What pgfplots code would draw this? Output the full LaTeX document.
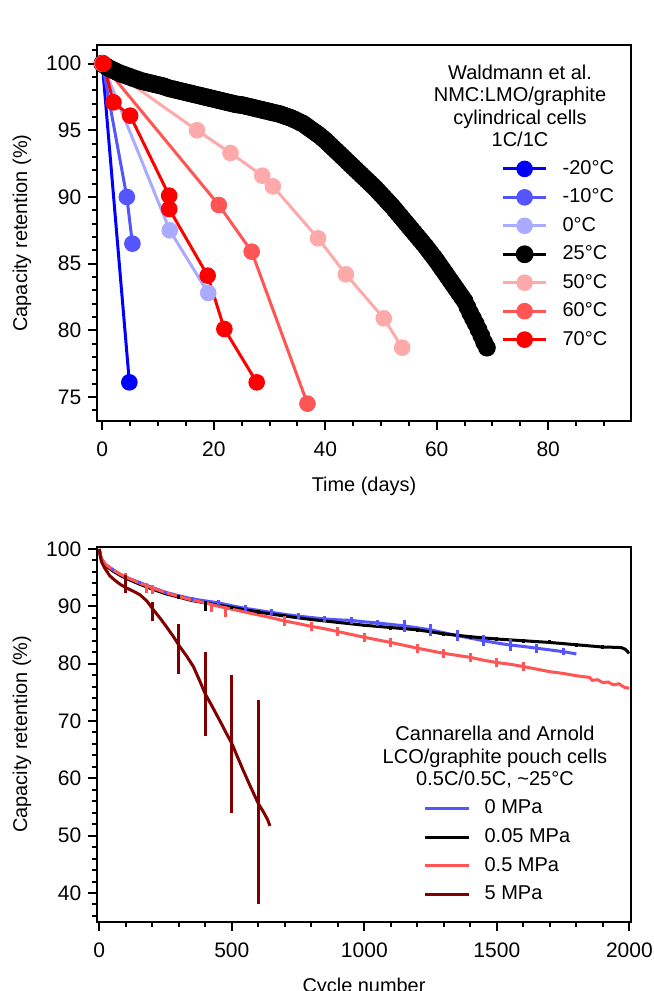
\documentclass[border=0pt]{standalone}
\usepackage{pgfplots}
\pgfplotsset{compat=1.18}
\usepackage{fontspec}
\setmainfont{Liberation Sans}
\definecolor{cm20}{RGB}{0,0,255}
\definecolor{cm10}{RGB}{85,85,255}
\definecolor{cz}{RGB}{170,170,255}
\definecolor{cf}{RGB}{255,170,170}
\definecolor{cs}{RGB}{255,85,85}
\definecolor{cv}{RGB}{255,0,0}
\definecolor{cdark}{RGB}{128,0,0}
\newcommand{\fs}{\fontsize{10bp}{11.2bp}\selectfont}
\newcommand{\ft}{\fontsize{10.5bp}{12bp}\selectfont}
\pgfplotsset{
  myaxis/.style={
    scale only axis, anchor=south west,
    width=266.7bp,
    tick pos=left, tick align=outside,
    major tick length=4.5bp, minor tick length=2.5bp,
    every tick/.append style={black, line width=1bp},
    axis line style={line width=1bp},
    /pgf/number format/assume math mode=true,
    /pgf/number format/1000 sep={},
    scaled ticks=false,
    tick label style={font=\ft},
    xticklabel style={yshift=-2.5bp},
    label style={font=\fs},
    every axis y label/.style={at={(axis description cs:-0.141,0.5)}, rotate=90, anchor=center},
    every axis x label/.style={at={(axis description cs:0.5,-0.174)}, anchor=center},
    legend cell align=left,
  },
  ebar/.style={forget plot, draw=none, mark=none, error bars/.cd, y dir=both, y explicit,
    error mark=none, error bar style={line width=1.5bp, draw=#1}},
}
\begin{document}
\begin{tikzpicture}
\path[use as bounding box] (0,0) rectangle (327bp,495.5bp);
% ---------------- panel a
\begin{axis}[myaxis,
  at={(48.65bp,285bp)}, height=188bp,
  xmin=-0.9, xmax=94.8, ymin=73.2, ymax=101.4,
  xtick={0,20,40,60,80}, minor xtick={0,5,...,90},
  ytick={75,80,85,90,95,100}, minor ytick={74,...,101},
  xlabel={Time (days)}, ylabel={Capacity retention (\%)},
  legend style={draw=none, fill=none, at={(rel axis cs:0.758,0.693)}, anchor=north west,
    inner sep=0pt, outer sep=0pt, row sep=5.75bp, column sep=7.5bp, font=\fs,
    nodes={inner sep=0pt}},
  legend image code/.code={\draw[#1, mark repeat=2, mark phase=2] plot coordinates {(0bp,0bp) (10.75bp,0bp) (21.5bp,0bp)};},
  every axis plot/.append style={line width=1.5bp, mark=*, mark size=3.9bp},
]
\addplot[color=cm20, mark options={fill=cm20, line width=0.5bp}] coordinates {(0,100) (4.85,76.1)};
\addlegendentry{-20°C}
\addplot[color=cm10, mark options={fill=cm10, line width=0.5bp}] coordinates {(0,100) (4.4,90.0) (5.4,86.5)};
\addlegendentry{-10°C}
\addplot[color=cz, mark options={fill=cz, line width=0.5bp}] coordinates {(0,100) (12.1,87.5) (19.0,82.8)};
\addlegendentry{0°C}
\addplot[color=black, mark options={fill=black, line width=0.5bp}, mark size=4.2bp] table {
x y
0 100.0
0.5 99.85
1 99.7
1.5 99.6
2 99.5
2.5 99.4
3 99.3
3.5 99.22
4 99.15
4.5 99.07
5 99.0
5.5 98.92
6 98.85
6.5 98.78
7 98.7
7.5 98.65
8 98.6
8.5 98.55
9 98.5
9.5 98.45
10 98.4
10.5 98.35
11 98.3
11.5 98.22
12 98.15
12.5 98.1
13 98.05
13.5 98.0
14 97.95
14.5 97.9
15 97.85
15.5 97.8
16 97.75
16.5 97.7
17 97.65
17.5 97.6
18 97.55
18.5 97.5
19 97.45
19.5 97.4
20 97.35
20.5 97.3
21 97.25
21.5 97.2
22 97.15
22.5 97.1
23 97.05
23.5 97.0
24 96.95
24.5 96.92
25 96.9
25.5 96.85
26 96.8
26.5 96.75
27 96.7
27.5 96.65
28 96.6
28.5 96.55
29 96.5
29.5 96.45
30 96.4
30.5 96.35
31 96.3
31.5 96.25
32 96.2
32.5 96.12
33 96.05
33.5 95.98
34 95.9
34.5 95.8
35 95.7
35.5 95.6
36 95.5
36.5 95.35
37 95.2
37.5 95.05
38 94.9
38.5 94.75
39 94.6
39.5 94.42
40 94.25
40.5 94.05
41 93.85
41.5 93.65
42 93.45
42.5 93.25
43 93.05
43.5 92.85
44 92.65
44.5 92.45
45 92.25
45.5 92.05
46 91.85
46.5 91.65
47 91.45
47.5 91.25
48 91.05
48.5 90.85
49 90.65
49.5 90.42
50 90.2
50.5 89.98
51 89.75
51.5 89.52
52 89.3
52.5 89.05
53 88.8
53.5 88.55
54 88.3
54.5 88.05
55 87.8
55.5 87.55
56 87.3
56.5 87.05
57 86.8
57.5 86.55
58 86.3
58.5 86.02
59 85.75
59.5 85.48
60 85.2
60.5 84.9
61 84.6
61.5 84.3
62 84.0
62.5 83.7
63 83.4
63.5 83.1
64 82.8
64.5 82.5
65 82.2
65.5 81.75
66 81.3
66.5 80.9
67 80.5
67.5 80.05
68 79.6
68.5 79.1
69 78.7
};
\addlegendentry{25°C}
\addplot[color=cf, mark options={fill=cf, line width=0.5bp}] coordinates {(0,100) (17,95) (23,93.3) (28.7,91.6) (30.6,90.8) (38.7,86.9) (43.7,84.2) (50.5,80.9) (53.8,78.7)};
\addlegendentry{50°C}
\addplot[color=cs, mark options={fill=cs, line width=0.5bp}] coordinates {(0,100) (20.9,89.4) (26.8,85.9) (36.8,74.5)};
\addlegendentry{60°C}
\addplot[color=cv, mark options={fill=cv, line width=0.5bp}] coordinates {(0.2,100) (2,97.1) (5,96.1) (12,90.1) (12,89.1) (18.9,84.1) (21.9,80.1) (27.7,76.1)};
\addlegendentry{70°C}
\node[font=\fs, align=center, anchor=north, inner sep=0pt] at (rel axis cs:0.7925,0.9476)
  {Waldmann et al.\\NMC:LMO/graphite\\cylindrical cells\\1C/1C};
\node[font=\fs\bfseries, anchor=base west, inner sep=0pt] at (rel axis cs:0.0013,1.048) {a};
\end{axis}
% ---------------- panel b
\begin{axis}[myaxis,
  at={(48.65bp,34.65bp)}, height=187.5bp,
  xmin=-7.5, xmax=2005, ymin=35, ymax=100.4,
  xtick={0,500,1000,1500,2000}, minor xtick={0,100,...,2000},
  ytick={40,50,60,70,80,90,100}, minor ytick={36,38,...,100},
  xlabel={Cycle number}, ylabel={Capacity retention (\%)},
  legend style={draw=none, fill=none, at={(rel axis cs:0.611,0.325)}, anchor=north west,
    inner sep=0pt, outer sep=0pt, row sep=5.9bp, column sep=7.2bp, font=\fs,
    nodes={inner sep=0pt}},
  legend image code/.code={\draw[#1] (0bp,0bp) -- (22bp,0bp);},
  every axis plot/.append style={line width=1.5bp},
]
\addplot[color=cm10, no marks] table {
x y
0 100
5 98.8
10 98.2
20 97.5
30 97.1
50 96.45
75 95.7
100 95.1
150 94.2
200 93.3
250 92.45
300 91.85
350 91.3
400 90.95
450 90.6
500 90.1
550 89.65
600 89.3
650 88.95
700 88.6
750 88.3
800 88.05
850 87.8
900 87.65
950 87.55
1000 87.3
1050 87.1
1100 86.85
1150 86.6
1200 86.25
1250 85.9
1300 85.4
1350 84.9
1400 84.45
1450 84.0
1500 83.6
1550 83.25
1600 83.0
1650 82.7
1700 82.4
1750 82.1
1800 81.7
};
\addlegendentry{0 MPa}
\addplot[color=black, no marks] table {
x y
0 100
5 98.6
10 98.0
20 97.3
30 96.9
50 96.2
75 95.5
100 94.9
150 93.9
200 93.0
250 92.2
300 91.6
350 91.0
400 90.6
450 90.2
500 89.8
600 89.0
700 88.3
800 87.7
900 87.2
1000 86.7
1100 86.3
1200 85.9
1300 85.2
1400 84.7
1500 84.3
1600 84.0
1700 83.7
1800 83.3
1900 82.9
1950 82.85
1970 82.8
1985 82.5
1995 82.0
2000 82.1
};
\addlegendentry{0.05 MPa}
\addplot[color=cs, no marks] table {
x y
0 100
5 98.8
10 98.2
20 97.5
30 97.1
50 96.4
75 95.7
100 95.1
150 94.1
200 93.2
250 92.4
300 91.7
350 91.1
400 90.6
450 90.0
500 89.5
550 89.0
600 88.5
650 88.0
700 87.45
750 87.0
800 86.5
850 86.1
900 85.6
950 85.1
1000 84.6
1050 84.15
1100 83.7
1150 83.2
1200 82.7
1250 82.25
1300 81.8
1350 81.45
1400 81.1
1450 80.6
1500 80.2
1550 79.9
1600 79.5
1650 79.05
1700 78.6
1750 78.3
1800 77.9
1850 77.6
1860 77.1
1880 77.2
1900 76.7
1920 76.8
1940 76.3
1960 76.5
1980 75.9
2000 75.7
};
\addlegendentry{0.5 MPa}
\addplot[color=cdark, no marks] table {
x y
0 100
5 98.4
10 97.6
20 96.7
40 95.3
60 94.5
80 93.8
103 93.2
130 92.6
154 92.0
180 90.9
204 89.4
230 87.9
254 86.4
280 84.7
304 82.95
330 81.3
355 79.5
380 76.9
399 74.8
430 72.2
460 69.6
480 67.8
500 66.1
520 63.9
543 61.4
570 58.6
600 55.6
620 54.1
635 52.8
644 51.7
};
\addlegendentry{5 MPa}
% error bars
\addplot[ebar=cm10] coordinates {
(50,96.45) +- (0,0.3) (150,94.2) +- (0,0.3) (250,92.45) +- (0,0.3) (350,91.3) +- (0,0.4)
(450,90.6) +- (0,0.5) (550,89.65) +- (0,0.5) (650,88.95) +- (0,0.5) (750,88.3) +- (0,0.5)
(850,87.8) +- (0,0.5) (950,87.55) +- (0,0.6) (1050,87.1) +- (0,0.6) (1150,86.6) +- (0,1.0)
(1250,85.9) +- (0,1.0) (1350,84.9) +- (0,1.0) (1450,84.0) +- (0,1.0) (1550,83.25) +- (0,1.0)
(1650,82.7) +- (0,0.8) (1750,82.1) +- (0,0.6)};
\addplot[ebar=black] coordinates {
(100,94.9) +- (0,0.3) (200,93.0) +- (0,0.3) (300,91.6) +- (0,0.3) (400,90.1) +- (0,0.9)
(500,89.8) +- (0,0.3) (600,89.0) +- (0,0.3) (700,88.3) +- (0,0.3) (800,87.7) +- (0,0.3)
(900,87.2) +- (0,0.3) (1000,86.7) +- (0,0.3) (1100,86.3) +- (0,0.35) (1200,85.9) +- (0,0.35)
(1300,85.2) +- (0,0.35) (1400,84.7) +- (0,0.35) (1500,84.3) +- (0,0.35) (1600,84.0) +- (0,0.35)
(1700,83.7) +- (0,0.35) (1800,83.3) +- (0,0.35) (1900,82.9) +- (0,0.35)};
\addplot[ebar=cs] coordinates {
(100,95.0) +- (0,0.85) (180,93.2) +- (0,0.8) (200,92.9) +- (0,0.8) (424,89.6) +- (0,0.6)
(478,89.1) +- (0,1.0) (700,87.45) +- (0,0.8) (800,86.5) +- (0,0.8) (900,85.6) +- (0,0.8)
(1000,84.6) +- (0,0.8) (1100,83.7) +- (0,0.8) (1200,82.7) +- (0,0.8) (1300,81.8) +- (0,0.8)
(1400,81.1) +- (0,0.8) (1500,80.2) +- (0,0.8) (1600,79.5) +- (0,0.8)};
\addplot[ebar=cdark] coordinates {
(100,93.9) +- (0,1.6) (200,89.15) +- (0,1.65) (300,82.6) +- (0,4.4)
(400,74.7) +- (0,7.3) (500,65.95) +- (0,12.05) (600,55.8) +- (0,17.8)};
\node[font=\fs, align=center, anchor=north, inner sep=0pt] at (rel axis cs:0.7456,0.522)
  {Cannarella and Arnold\\LCO/graphite pouch cells\\0.5C/0.5C, \textasciitilde25°C};
\node[font=\fs\bfseries, anchor=base west, inner sep=0pt] at (rel axis cs:0.0013,1.0445) {b};
\end{axis}
\end{tikzpicture}
\end{document}
